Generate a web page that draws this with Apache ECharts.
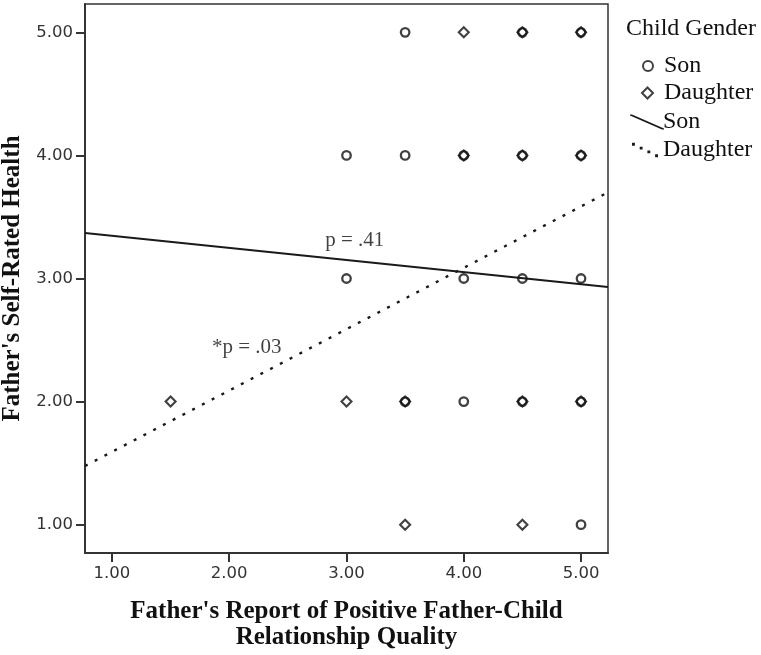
<!DOCTYPE html>
<html>
<head>
<meta charset="utf-8">
<script src="https://cdn.jsdelivr.net/npm/echarts@6/dist/echarts.min.js"></script>
<style>html,body{margin:0;padding:0;background:#fff;}#c{width:761px;height:655px;}</style>
</head>
<body>
<div id="c"></div>
<script>
// Data
var tickValues = [1, 2, 3, 4, 5];
var sonPoints = [[3.5,5],[4.5,5],[5,5],[3,4],[3.5,4],[4,4],[4.5,4],[5,4],[3,3],[4,3],[4.5,3],[5,3],[3.5,2],[4,2],[4.5,2],[5,2],[5,1]];
var daughterPoints = [[4,5],[4.5,5],[5,5],[4,4],[4.5,4],[5,4],[1.5,2],[3,2],[3.5,2],[4.5,2],[5,2],[3.5,1],[4.5,1]];
var fitX = [0.77, 5.23];
var sonFitY = [3.37, 2.93];
var daughterFitY = [1.477, 3.70];
var annotationTexts = ['p = .41', '*p = .03'];
var annotationX = [3.07, 2.15];
var annotationY = [3.31, 2.44];
var xTitle = "Father's Report of Positive Father-Child\nRelationship Quality";
var yTitle = "Father's Self-Rated Health";
var legendTitle = 'Child Gender';

var SERIF = 'Liberation Serif';
var SANS = 'DejaVu Sans';
var INK = '#111';

var chart = echarts.init(document.getElementById('c'), null, {renderer: 'canvas'});

function fitLine(ys) { return fitX.map(function (x, i) { return [x, ys[i]]; }); }

var annotData = annotationTexts.map(function (t, i) { return {name: t, value: [annotationX[i], annotationY[i]]}; });

var LEG_FONT = 24;
function legText(pad) { return {fontFamily: SERIF, fontSize: LEG_FONT, color: '#111', padding: [0, 0, 0, pad]}; }
var legendBase = {orient: 'vertical', itemGap: 0, selectedMode: false};

var option = {
  backgroundColor: '#fff',
  animation: false,
  title: {
    text: legendTitle, left: 621, top: 12,
    textStyle: {fontFamily: SERIF, fontSize: 24, fontWeight: 'normal', color: '#111'}
  },
  legend: [
    Object.assign({}, legendBase, {data: ['Son'], left: 637, top: 49, itemWidth: 10, itemHeight: 10, textStyle: legText(6)}),
    Object.assign({}, legendBase, {data: ['Daughter'], left: 636, top: 76, itemWidth: 11, itemHeight: 11, textStyle: legText(6)}),
    Object.assign({}, legendBase, {data: ['Son '], left: 625, top: 105, itemWidth: 34, itemHeight: 15, icon: 'path://M0,0L2,0L34,14L34,15L32,15L0,1Z', textStyle: legText(-6)}),
    Object.assign({}, legendBase, {data: ['Daughter '], left: 627, top: 133, itemWidth: 26, itemHeight: 15, icon: 'path://M0,0h3v3h-3Z M8,4h3v3h-3Z M16,8h3v3h-3Z M24,12h3v3h-3Z', textStyle: legText(0)})
  ],
  grid: {
    left: 85, right: 153, top: 4, bottom: 102,
    show: true, borderColor: '#333', borderWidth: 1.5, backgroundColor: '#fff',
    containLabel: false, outerBoundsMode: 'none'
  },
  xAxis: {
    type: 'value', min: 0.77, max: 5.23,
    name: xTitle, nameLocation: 'middle', nameGap: 46,
    nameTextStyle: {fontFamily: SERIF, fontSize: 25, fontWeight: 'bold', color: '#111', lineHeight: 26},
    axisLine: {show: true, onZero: false, lineStyle: {color: '#333', width: 2}},
    axisTick: {show: true, inside: false, length: 9, customValues: tickValues, lineStyle: {color: '#333', width: 2}},
    axisLabel: {customValues: tickValues, margin: 12, fontFamily: SANS, fontSize: 16.5, color: '#333',
      formatter: function (v) { return Number(v).toFixed(2); }},
    splitLine: {show: false}
  },
  yAxis: {
    type: 'value', min: 0.77, max: 5.23,
    name: yTitle, nameLocation: 'middle', nameGap: 59,
    nameTextStyle: {fontFamily: SERIF, fontSize: 25, fontWeight: 'bold', color: '#111'},
    axisLine: {show: true, onZero: false, lineStyle: {color: '#333', width: 2}},
    axisTick: {show: true, inside: false, length: 9, customValues: tickValues, lineStyle: {color: '#333', width: 2}},
    axisLabel: {customValues: tickValues, margin: 12, fontFamily: SANS, fontSize: 16.5, color: '#333',
      formatter: function (v) { return Number(v).toFixed(2); }},
    splitLine: {show: false}
  },
  series: [
    {
      name: 'Son', type: 'scatter', data: sonPoints, symbol: 'circle', symbolSize: 8.5,
      itemStyle: {color: 'rgba(255,255,255,0)', borderColor: INK, borderWidth: 2.3}, z: 3
    },
    {
      name: 'Daughter', type: 'scatter', data: daughterPoints, symbol: 'diamond', symbolSize: 10,
      itemStyle: {color: 'rgba(255,255,255,0)', borderColor: INK, borderWidth: 2.1}, z: 3
    },
    {
      name: 'Son ', type: 'line', data: fitLine(sonFitY), symbol: 'none',
      lineStyle: {color: '#1a1a1a', width: 2, type: 'solid'}, itemStyle: {color: '#1a1a1a'}, z: 2
    },
    {
      name: 'Daughter ', type: 'line', data: fitLine(daughterFitY), symbol: 'none',
      lineStyle: {color: '#1a1a1a', width: 2.4, type: [3, 8]}, itemStyle: {color: '#1a1a1a'}, z: 2
    },
    {
      name: 'annotations', type: 'scatter', data: annotData, symbolSize: 0, silent: true,
      label: {show: true, position: 'inside', formatter: '{b}', fontFamily: SERIF, fontSize: 21, color: '#111'}, z: 4
    }
  ]
};
chart.setOption(option);
</script>
</body>
</html>
